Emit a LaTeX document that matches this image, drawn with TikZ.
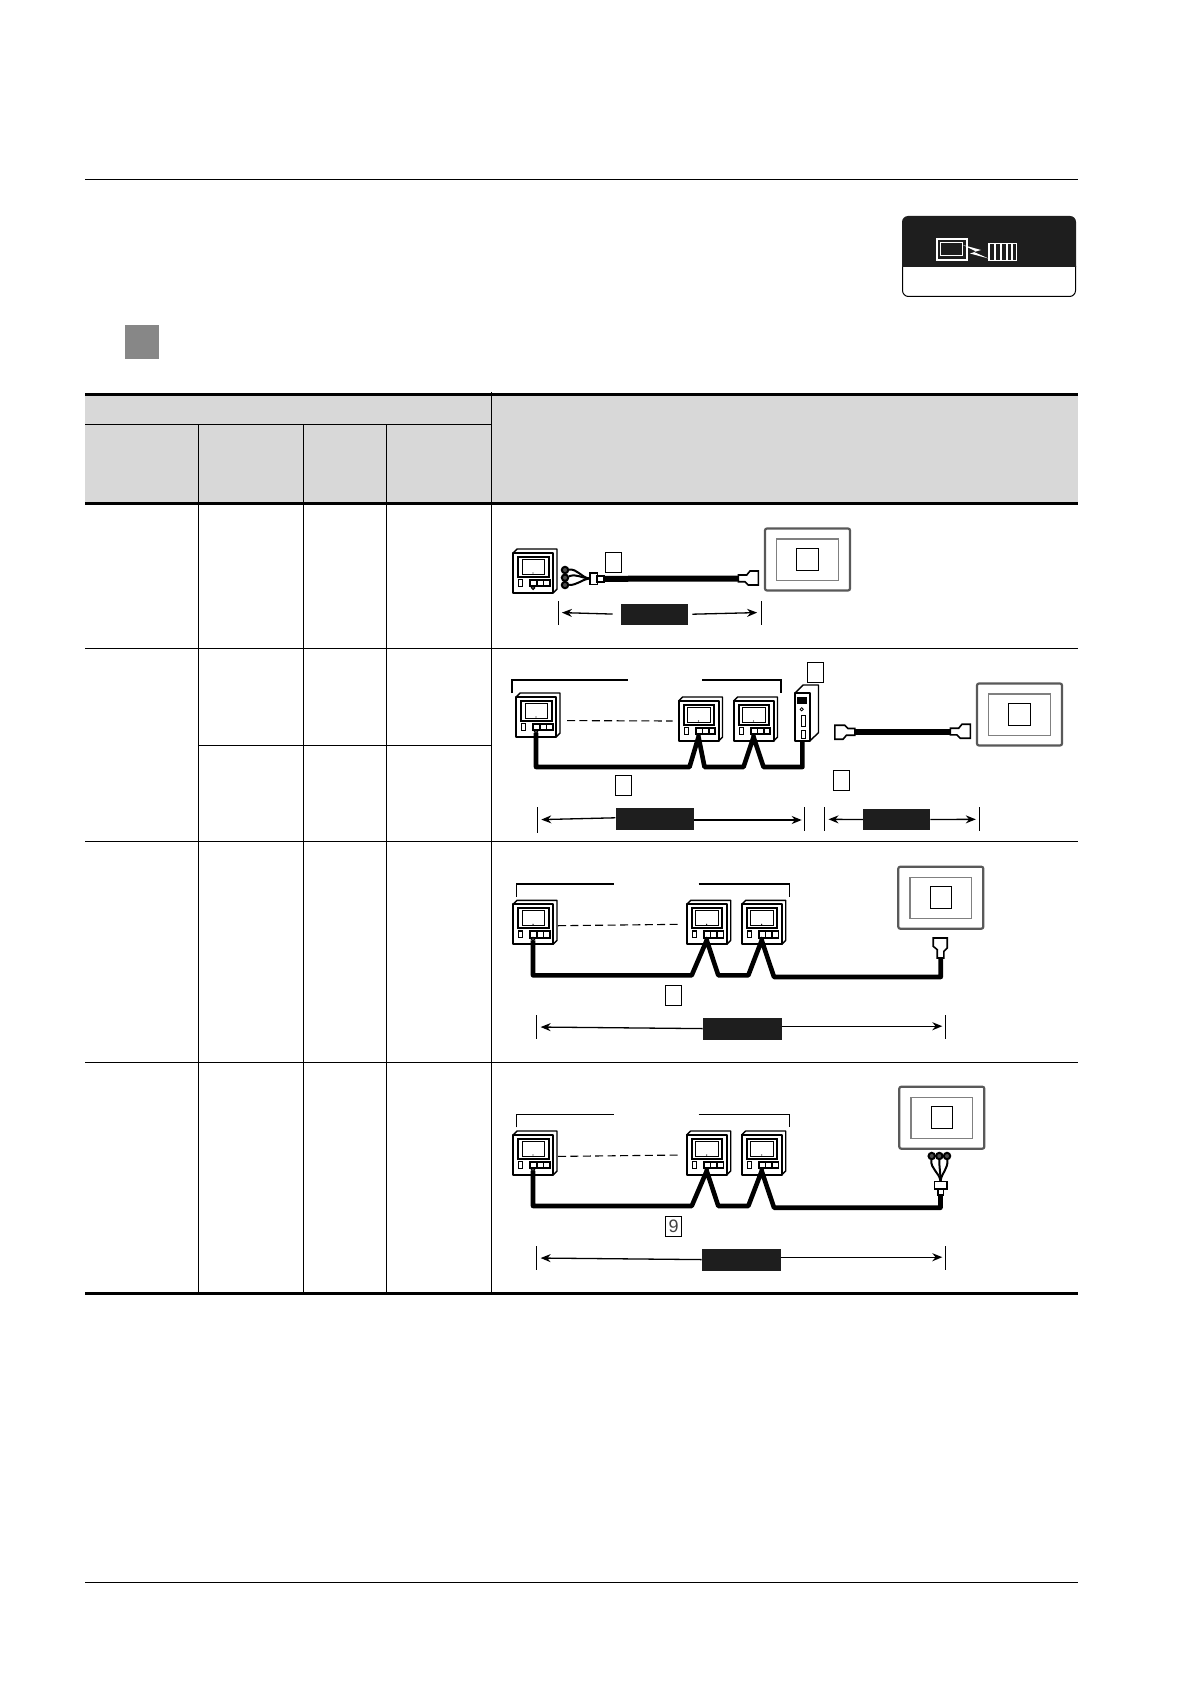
\documentclass[tikz,border=0pt]{standalone}
\usepackage{fontspec}
\setmainfont{Liberation Sans}
\usetikzlibrary{arrows.meta}
\definecolor{headgray}{HTML}{D8D8D8}
\definecolor{squaregray}{HTML}{878787}
\definecolor{panelblack}{HTML}{1E1E1E}
\tikzset{
	unitline/.style={draw=black,line width=.7pt,fill=white,line join=round},
	ctrlbody/.style={unitline,rectangle,minimum size=20pt,inner sep=0pt,line width=1pt},
	gotbody/.style={draw=black!65,line width=1.1pt,fill=white,rounded corners=1pt,minimum width=42.5pt,minimum height=31pt,inner sep=0pt},
	gotinner/.style={draw=black!50,line width=.6pt,minimum width=30.8pt,minimum height=20.6pt,inner sep=0pt},
	tagbox/.style={draw=black,line width=.5pt,fill=white,minimum width=8pt,minimum height=10pt,inner sep=0pt,font=\fontsize{9}{9}\selectfont,text=black!75},
	gotlabel/.style={tagbox,minimum width=10.8pt,minimum height=11pt},
	lenbox/.style={fill=panelblack,inner sep=0pt,minimum height=11pt},
	lentick/.style={fill=black,inner sep=0pt,minimum width=.5pt,minimum height=12pt},
	lenarrow/.style={->,line width=.65pt,shorten >=1.5pt},
	cable/.style={line width=2.3pt,line join=round},
	fatcable/.style={line width=3pt},
	wire/.style={line width=1pt},
	linkdash/.style={line width=.55pt,dash pattern=on 4pt off 2.2pt},
	termnode/.style={circle,draw=black,fill=black!70,line width=1pt,minimum size=3.2pt,inner sep=0pt},
	plugnode/.style={draw=black,fill=white,line width=.8pt,inner sep=0pt},
	bracket/.style={line width=.55pt},
	ctrlunit/.pic={
		\draw[unitline] (0,0) -- (4,-4) -- (44,-4) -- (44,36) -- (40,40) -- cycle;
		\node[ctrlbody] (-body) at (20,20) {};
		\draw[line width=1pt] (5.3,4) rectangle (35.7,24);
		\draw[line width=.5pt,fill=white] (9,6.6) rectangle (31.7,21);
		\fill (20,20) circle (.7);
		\draw[line width=.7pt] (5.7,26.6) rectangle (9.7,33.3);
		\draw[line width=.9pt] (17.3,26.6) rectangle (36.7,33.3);
		\draw[line width=.8pt] (23.8,26.6) -- (23.8,33.3) (30.3,26.6) -- (30.3,33.3);
		\draw[line width=.6pt,fill=white] (20,34.8) circle (1.6);
		\coordinate (-port) at (20,36);
	},
	gotpanel/.pic={
		\node[gotbody] (-body) at (42.5,31) {};
		\node[gotinner] (-inner) at (42.5,31) {};
		\node[gotlabel] (-label) at (42.5,31) {};
	},
	dsubplug/.pic={
		\draw[plugnode] (0,-3.5) -- (8.4,-3.5) -- (11.7,-7.5) -- (20,-7.5) -- (20,6.5) -- (10,6.5) -- (6.7,3.2) -- (0,3.2) -- cycle;
		\coordinate (-tail) at (0,0);
	},
}
\begin{document}
\begin{tikzpicture}[x=.5pt,y=-.5pt,>={Stealth[length=5pt,width=4pt]}]
	\useasboundingbox (0,0) rectangle (1190,1684);
	\draw[line width=.5pt] (85,179.5) -- (1078,179.5);
	\draw[line width=.8pt] (85,1582.5) -- (1078,1582.5);
	\fill[squaregray] (125,325) rectangle (159,359);

	\draw[line width=.5pt,rounded corners=3pt,fill=white] (902.5,260) rectangle (1075.5,296.5);
	\fill[panelblack] (902,267) [rounded corners=3pt] -- (902,216) -- (1076,216) [sharp corners] -- (1076,267) -- cycle;
	\draw[white,line width=.8pt] (937,239) rectangle (967,260);
	\draw[white,line width=.5pt] (940.5,243) rectangle (962.5,256);
	\fill[white] (963,245) -- (981,250) -- (974,252) -- (988.5,258.5) -- (970,253.5) -- (976,251.5) -- cycle;
	\draw[white,line width=.7pt] (989,243.5) rectangle (1016.5,260.5);
	\foreach \x in {995,1001,1007,1012}
		\draw[white,line width=.7pt] (\x,243.5) -- (\x,260.5);

	\fill[headgray] (85,394) rectangle (1078,503);
	\draw[line width=.6pt] (85,424.5) -- (491.5,424.5);
	\foreach \x in {198.5,303.5,386.5}
		\draw[line width=.6pt] (\x,424.5) -- (\x,1293);
	\draw[line width=.6pt] (491.5,392) -- (491.5,1293);
	\foreach \y in {394.5,503.5,1293.5}
		\draw[line width=1.6pt] (85,\y) -- (1078,\y);
	\foreach \y in {648.5,841.5,1062.5}
		\draw[line width=.5pt] (85,\y) -- (1078,\y);
	\draw[line width=.5pt] (198.5,745) -- (491.5,745);

	\pic (r1a) at (513,553) {ctrlunit};
	\pic (r1got) at (765,528.5) {gotpanel};
	\node[termnode] (r1t1) at (565,570) {};
	\node[termnode] (r1t2) at (565,577.7) {};
	\node[termnode] (r1t3) at (565,585) {};
	\node[plugnode,minimum width=3.7pt,minimum height=5.8pt] (r1plug) at (593.6,578.5) {};
	\node[plugnode,minimum width=3.4pt,minimum height=2.9pt] (r1stem) at (600.6,578.8) {};
	\draw[wire] (r1t1) to [out=5,in=170] (r1plug.west);
	\draw[wire] (r1t2) to [out=20,in=175] (r1plug.west);
	\draw[wire] (r1t3) to [out=0,in=190] (r1plug.west);
	\pic (r1pb) at (738.3,578.5) {dsubplug};
	\draw[fatcable] (r1stem.east) -- (r1pb-tail);
	\node[tagbox] (r1tag) at (613.5,562) {};
	\node[lentick] (r1la) at (558,612.5) {};
	\node[lentick] (r1lb) at (761,612.5) {};
	\node[lenbox,minimum width=33.5pt,minimum height=10.3pt] (r1len) at (654.5,614.3) {};
	\draw[lenarrow,shorten <=4pt] (r1len.west) -- (r1la);
	\draw[lenarrow,shorten <=2pt] (r1len.east) -- (r1lb);

	\pic (r2a) at (516,697) {ctrlunit};
	\pic (r2b) at (678.5,701) {ctrlunit};
	\pic (r2c) at (733.5,701) {ctrlunit};
	\draw[linkdash] ([xshift=5pt,yshift=-1.8pt]r2a-body.east) -- ([xshift=-2.5pt]r2b-body.west);
	\draw[bracket] (512,693) |- (627.5,680);
	\draw[bracket] (702,680) -| (781,693);
	\draw[unitline] (794.8,693.3) -- (803,685) -- (818.5,685) -- (818.5,732.7) -- (810,740.7) -- cycle;
	\node[ctrlbody,minimum width=7.6pt,minimum height=23.7pt] (r2plc) at (802.4,717) {};
	\fill (796.7,696.7) rectangle (807,704.3);
	\draw[line width=.4pt] (801.7,709.3) circle (1.6);
	\draw[line width=.5pt] (801.3,715) rectangle (805,726.7);
	\draw[line width=.5pt] (801.3,730) rectangle (805,738.3);
	\draw[cable] (r2a-port) |- ([shift={(-9,30)}]r2b-port) -- (r2b-port) -- ([shift={(6,30)}]r2b-port) -- ([shift={(-10,30)}]r2c-port) -- (r2c-port) -- ([shift={(10,30)}]r2c-port) -| (r2plc.south);
	\pic[rotate=180] (r2pa) at (854.8,731.7) {dsubplug};
	\pic (r2pb) at (950.3,731.7) {dsubplug};
	\draw[fatcable] (r2pa-tail) -- (r2pb-tail);
	\pic (r2got) at (977,683.5) {gotpanel};
	\node[tagbox] (r2tag) at (815,672.5) {};
	\node[tagbox] (r2tab) at (623.7,785.5) {};
	\node[tagbox] (r2tac) at (841.2,780.5) {};
	\node[lentick,minimum height=13pt] (r2la) at (537.4,819.7) {};
	\node[lentick] (r2lb) at (804.7,819) {};
	\node[lenbox,minimum width=39pt] (r2len) at (654.7,819) {};
	\draw[lenarrow] ([yshift=.6pt]r2len.west) -- (r2la);
	\draw[lenarrow] ([yshift=-.5pt]r2len.east) -- ([yshift=-.5pt]r2lb.center);
	\node[lentick] (r2lc) at (824.6,819.3) {};
	\node[lentick] (r2ld) at (979.7,819.3) {};
	\node[lenbox,minimum width=33.4pt,minimum height=10.5pt] (r2lem) at (896.6,819.5) {};
	\draw[lenarrow] (r2lem.west) -- (r2lc);
	\draw[lenarrow] (r2lem.east) -- (r2ld);

	\pic (r3a) at (513,904.3) {ctrlunit};
	\pic (r3b) at (686.7,904.3) {ctrlunit};
	\pic (r3c) at (741.7,904.3) {ctrlunit};
	\draw[linkdash] ([xshift=2pt,yshift=-.7pt]r3a-body.east) -- ([xshift=-2pt]r3b-body.west);
	\draw[bracket] (516.3,896.7) |- (614,884);
	\draw[bracket] (698.7,884) -| (789.3,896.7);
	\pic (r3got) at (898.3,866.7) {gotpanel};
	\pic[rotate=90] (r3pb) at (940.7,958) {dsubplug};
	\draw[cable] (r3a-port) |- ([shift={(-15,35)}]r3b-port) -- (r3b-port) -- ([shift={(11.6,35)}]r3b-port) -- ([shift={(-13.4,35)}]r3c-port) -- (r3c-port) -- ([shift={(12.3,36.7)}]r3c-port) -| (r3pb-tail);
	\node[tagbox] (r3tag) at (673.5,995.5) {};
	\node[lentick] (r3la) at (536.7,1027) {};
	\node[lentick] (r3lb) at (945.3,1027) {};
	\node[lenbox,minimum width=39.5pt] (r3len) at (742.5,1029) {};
	\draw[lenarrow] ([yshift=.2pt]r3len.west) -- (r3la);
	\draw[lenarrow] ([yshift=1.4pt]r3len.east) -- ([yshift=.4pt]r3lb.center);

	\pic (r4a) at (513,1135) {ctrlunit};
	\pic (r4b) at (686.7,1135) {ctrlunit};
	\pic (r4c) at (741.7,1135) {ctrlunit};
	\draw[linkdash] ([xshift=2pt,yshift=-.7pt]r4a-body.east) -- ([xshift=-2pt]r4b-body.west);
	\draw[bracket] (516.3,1127.3) |- (614,1114.3);
	\draw[bracket] (698.7,1114.3) -| (789.3,1127.3);
	\pic (r4got) at (899.3,1086.7) {gotpanel};
	\node[termnode] (r4t1) at (931.7,1156) {};
	\node[termnode] (r4t2) at (939.3,1156) {};
	\node[termnode] (r4t3) at (947,1156) {};
	\node[plugnode,minimum width=6.2pt,minimum height=3.7pt] (r4plug) at (940.5,1185.3) {};
	\node[plugnode,minimum width=2.8pt,minimum height=3pt] (r4stem) at (940.5,1192) {};
	\draw[wire] (r4t1) to [out=-95,in=100] (r4plug.north);
	\draw[wire] (r4t2) to [out=-90,in=90] (r4plug.north);
	\draw[wire] (r4t3) to [out=-85,in=80] (r4plug.north);
	\draw[cable] (r4a-port) |- ([shift={(-15,35)}]r4b-port) -- (r4b-port) -- ([shift={(11.6,35)}]r4b-port) -- ([shift={(-13.4,35)}]r4c-port) -- (r4c-port) -- ([shift={(12.3,36.7)}]r4c-port) -| (r4stem.south);
	\node[tagbox] (r4tag) at (673.5,1226) {9};
	\node[lentick] (r4la) at (536.7,1258) {};
	\node[lentick] (r4lb) at (945.3,1258) {};
	\node[lenbox,minimum width=39.5pt] (r4len) at (741.5,1260) {};
	\draw[lenarrow] ([yshift=.2pt]r4len.west) -- (r4la);
	\draw[lenarrow] ([yshift=1.4pt]r4len.east) -- ([yshift=.4pt]r4lb.center);
\end{tikzpicture}
\end{document}
